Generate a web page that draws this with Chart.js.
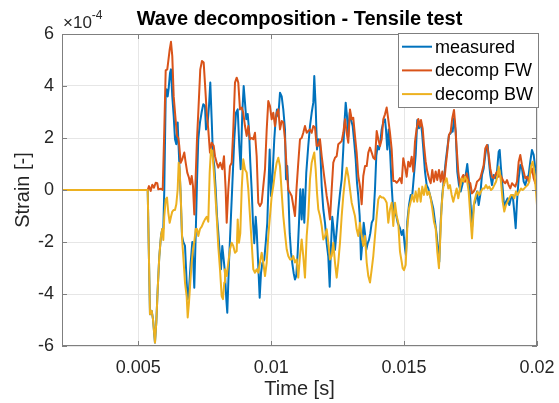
<!DOCTYPE html>
<html>
<head>
<meta charset="utf-8">
<script src="https://cdn.jsdelivr.net/npm/chart.js@4"></script>
<style>
  html, body { margin: 0; padding: 0; background: #fff; }
  canvas { display: block; }
</style>
</head>
<body>
<canvas id="grafico" width="559" height="403"></canvas>
<script>
// ---- DATA: time [s], strain in units of 1e-4 ----
const chartTitle = "Wave decomposition - Tensile test";
const seriesNames = ["measured", "decomp FW", "decomp BW"];
const xTicks = [0.005, 0.01, 0.015, 0.02];
const yTicks = [-6, -4, -2, 0, 2, 4, 6];
const xMin = 0.00213, xMax = 0.02;

const measuredT = [
  0.00213, 0.005354, 0.005440, 0.005504, 0.005553, 0.005628, 0.005677, 0.005730, 0.005790, 0.005854,
  0.005903, 0.005941, 0.005978, 0.006031, 0.006069, 0.006106, 0.006144, 0.006193, 0.006230, 0.006279,
  0.006332, 0.006381, 0.006430, 0.006482, 0.006505, 0.006542, 0.006595, 0.006644, 0.006693, 0.006757,
  0.006821, 0.006859, 0.006907, 0.006971, 0.007032, 0.007069, 0.007107, 0.007159, 0.007208, 0.007257,
  0.007321, 0.007385, 0.007445, 0.007509, 0.007547, 0.007611, 0.007660, 0.007709, 0.007761, 0.007810,
  0.007859, 0.007912, 0.007961, 0.008010, 0.008074, 0.008111, 0.008160, 0.008213, 0.008262, 0.008311,
  0.008348, 0.008412, 0.008487, 0.008536, 0.008612, 0.008676, 0.008740, 0.008800, 0.008852, 0.008913,
  0.008965, 0.009014, 0.009063, 0.009116, 0.009165, 0.009214, 0.009266, 0.009315, 0.009364, 0.009417,
  0.009454, 0.009514, 0.009567, 0.009616, 0.009665, 0.009740, 0.009793, 0.009853, 0.009906, 0.009943,
  0.009992, 0.010056, 0.010116, 0.010169, 0.010218, 0.010267, 0.010331, 0.010395, 0.010455, 0.010519,
  0.010557, 0.010605, 0.010643, 0.010696, 0.010745, 0.010794, 0.010846, 0.010895, 0.010944, 0.010997,
  0.011046, 0.011095, 0.011147, 0.011196, 0.011245, 0.011320, 0.011395, 0.011459, 0.011523, 0.011584,
  0.011621, 0.011674, 0.011723, 0.011772, 0.011836, 0.011900, 0.011960, 0.012024, 0.012088, 0.012148,
  0.012201, 0.012249, 0.012298, 0.012351, 0.012400, 0.012464, 0.012524, 0.012588, 0.012652, 0.012712,
  0.012750, 0.012803, 0.012851, 0.012900, 0.012953, 0.013002, 0.013066, 0.013126, 0.013179, 0.013228,
  0.013276, 0.013329, 0.013378, 0.013427, 0.013480, 0.013529, 0.013577, 0.013630, 0.013679, 0.013728,
  0.013781, 0.013841, 0.013905, 0.013954, 0.014006, 0.014055, 0.014104, 0.014157, 0.014217, 0.014281,
  0.014319, 0.014367, 0.014420, 0.014480, 0.014533, 0.014571, 0.014620, 0.014683, 0.014759, 0.014845,
  0.014909, 0.014969, 0.015033, 0.015071, 0.015120, 0.015184, 0.015248, 0.015308, 0.015372, 0.015436,
  0.015496, 0.015560, 0.015624, 0.015673, 0.015722, 0.015786, 0.015850, 0.015910, 0.015974, 0.016038,
  0.016098, 0.016162, 0.016226, 0.016286, 0.016324, 0.016376, 0.016437, 0.016501, 0.016564, 0.016625,
  0.016689, 0.016753, 0.016790, 0.016828, 0.016877, 0.016941, 0.017001, 0.017065, 0.017129, 0.017189,
  0.017253, 0.017317, 0.017377, 0.017430, 0.017490, 0.017554, 0.017618, 0.017678, 0.017742, 0.017806,
  0.017866, 0.017930, 0.017994, 0.018054, 0.018092, 0.018145, 0.018193, 0.018242, 0.018306, 0.018370,
  0.018430, 0.018494, 0.018558, 0.018596, 0.018645, 0.018709, 0.018769, 0.018833, 0.018897, 0.018957,
  0.019021, 0.019085, 0.019145, 0.019198, 0.019247, 0.019311, 0.019371, 0.019435, 0.019499, 0.019559,
  0.019623, 0.019687, 0.019747, 0.019811, 0.019875, 0.019935, 0.020000
];
const measuredV = [
  0, 0, -4.78, -4.65, -4.97, -5.87, -5.1, -3.82, -2.56, -1.77,
  -1.5, -1.5, 0, 3.6, 3.87, 3.6, 3.92, 4.5, 4.64, 3.6,
  2.85, 1.95, 1.76, 2.6, 1.95, 1.05, -0.23, -1.77, -2.0, -2.15,
  -3.56, -4.2, -3.85, -2.8, -2.0, -2.8, -3.76, -1.77, 0.28, 1.95,
  2.6, 3.0, 3.3, 3.23, 2.33, 2.6, 3.23, 4.13, 2.72, 1.3,
  0.92, 0.03, -1.0, -1.64, -2.54, -3.05, -2.15, -2.67, -3.2, -4.2,
  -4.72, -2.8, -1.0, 0.15, 1.95, 2.97, 3.1, 1.7, 0.8, 2.97,
  4.0, 3.36, 2.72, 2.92, 2.33, 1.05, 0, -1.26, -2.05, -1.03,
  -1.54, -2.92, -4.14, -3.2, -2.82, -2.67, -2.05, -1.26, 0.41, 1.56,
  -0.23, 0.67, 1.95, 2.72, 3.1, 2.82, 3.74, 3.6, 3.1, 2.33,
  0.41, 0.92, 0, -1.67, -2.4, -2.82, -3.2, -3.44, -3.3, -2.41,
  -1.26, 0.03, -1.13, 0.03, -1.26, 0.67, 1.7, 2.46, 2.97, 3.36,
  4.38, 3.2, 1.56, 1.95, 1.82, 0.15, -0.74, -1.26, -2.05, -2.56,
  -3.72, -2.18, -1.03, -1.54, -2.3, -1.54, -0.77, -0.13, 0.41, 1.56,
  2.46, 3.36, 2.85, 2.05, 2.97, 2.72, 2.46, 1.82, 1.18, 0.28,
  -0.23, -1.0, -2.67, -2.05, -1.26, -1.67, -2.3, -2.05, -1.92, -1.67,
  -1.26, -1.13, 0.03, 1.31, 1.69, 1.56, 1.82, 2.33, 2.6, 2.72,
  2.33, 1.56, 2.33, 1.31, 0.15, -0.49, -1.0, -0.87, -1.26, -1.47,
  -1.73, -1.54, -2.24, -2.5, -1.22, -0.58, -0.19, -0.19, 0.58, 1.35,
  2.69, 2.37, 2.63, 2.24, 1.6, 0.71, 0.19, 0.06, -0.19, -0.45,
  -0.71, -1.22, -1.73, -2.37, -2.76, -1.22, -0.19, 0.45, 1.09, 1.6,
  2.12, 2.18, 2.37, 2.24, 2.76, 2.24, 0.71, 0.19, -0.06, 0.19,
  0.45, 0.58, 1.0, 0.45, -0.32, -1.47, -0.58, -0.45, -0.06, -0.58,
  -0.19, 0.58, 0.83, 1.35, 1.6, 1.73, 1.09, 0.58, 0.19, 0.58,
  0.45, 0.71, 1.47, 1.54, 0.83, 0.06, -0.71, -0.45, -0.32, -0.58,
  -0.32, -0.19, -0.83, -1.47, -0.45, 0.45, 0.96, 0.83, 0.32, 0.19,
  0.45, 0.58, 1.09, 1.54, 1.35, 0.83, 0.45
];

const fwT = [
  0.00213, 0.005354, 0.005403, 0.005466, 0.005527, 0.005591, 0.005655, 0.005715, 0.005752, 0.005854,
  0.005918, 0.005978, 0.006031, 0.006091, 0.006129, 0.006181, 0.006230, 0.006279, 0.006332, 0.006392,
  0.006456, 0.006505, 0.006542, 0.006595, 0.006655, 0.006731, 0.006783, 0.006843, 0.006907, 0.006956,
  0.007009, 0.007058, 0.007107, 0.007159, 0.007208, 0.007257, 0.007332, 0.007396, 0.007460, 0.007509,
  0.007573, 0.007633, 0.007697, 0.007761, 0.007837, 0.007886, 0.007950, 0.008010, 0.008085, 0.008160,
  0.008224, 0.008288, 0.008326, 0.008386, 0.008450, 0.008514, 0.008574, 0.008638, 0.008702, 0.008762,
  0.008826, 0.008890, 0.008950, 0.009014, 0.009078, 0.009138, 0.009202, 0.009266, 0.009326, 0.009390,
  0.009454, 0.009514, 0.009578, 0.009642, 0.009703, 0.009767, 0.009831, 0.009891, 0.009955, 0.010019,
  0.010079, 0.010143, 0.010207, 0.010267, 0.010331, 0.010395, 0.010455, 0.010519, 0.010583, 0.010643,
  0.010707, 0.010771, 0.010831, 0.010895, 0.010959, 0.011019, 0.011083, 0.011147, 0.011207, 0.011271,
  0.011335, 0.011395, 0.011459, 0.011523, 0.011584, 0.011648, 0.011712, 0.011772, 0.011836, 0.011900,
  0.011960, 0.012024, 0.012088, 0.012148, 0.012212, 0.012276, 0.012336, 0.012400, 0.012464, 0.012524,
  0.012588, 0.012652, 0.012712, 0.012776, 0.012840, 0.012900, 0.012964, 0.013028, 0.013088, 0.013152,
  0.013216, 0.013276, 0.013340, 0.013404, 0.013465, 0.013529, 0.013593, 0.013653, 0.013717, 0.013781,
  0.013841, 0.013905, 0.013969, 0.014029, 0.014093, 0.014157, 0.014217, 0.014281, 0.014345, 0.014405,
  0.014469, 0.014533, 0.014593, 0.014657, 0.014721, 0.014781, 0.014845, 0.014909, 0.014969, 0.015033,
  0.015097, 0.015157, 0.015221, 0.015285, 0.015346, 0.015410, 0.015474, 0.015534, 0.015598, 0.015635,
  0.015699, 0.015748, 0.015812, 0.015872, 0.015936, 0.016000, 0.016060, 0.016124, 0.016188, 0.016248,
  0.016312, 0.016376, 0.016437, 0.016501, 0.016564, 0.016625, 0.016689, 0.016753, 0.016813, 0.016877,
  0.016926, 0.016978, 0.017038, 0.017102, 0.017166, 0.017227, 0.017291, 0.017355, 0.017430, 0.017490,
  0.017554, 0.017618, 0.017678, 0.017742, 0.017806, 0.017866, 0.017930, 0.017994, 0.018054, 0.018118,
  0.018182, 0.018242, 0.018306, 0.018370, 0.018430, 0.018494, 0.018558, 0.018619, 0.018682, 0.018746,
  0.018807, 0.018871, 0.018935, 0.018995, 0.019059, 0.019123, 0.019183, 0.019247, 0.019311, 0.019371,
  0.019435, 0.019499, 0.019559, 0.019623, 0.019687, 0.019747, 0.019811, 0.019875, 0.019935, 0.020000
];
const fwV = [
  0, 0, 0.15, -0.04, 0.2, 0.09, 0.28, 0.26, 0.03, 0.05,
  0, 2.3, 4.6, 4.64, 4.96, 5.4, 5.7, 5.15, 3.6, 2.85,
  2.08, 2.0, 1.7, 1.05, 1.18, 1.44, 1.05, 0.67, 0.47, 0.22,
  0.54, 0.15, -0.94, 0.5, 1.95, 2.97, 4.64, 4.96, 4.9, 4.1,
  3.0, 2.33, 1.44, 1.82, 1.7, 1.3, 1.05, 0.86, 1.05, 0.8,
  1.3, 0, -1.26, 0, 0.92, 1.05, 2.33, 4.13, 4.32, 4.13,
  3.1, 3.17, 2.97, 2.46, 2.08, 2.46, 1.95, 2.0, 1.95, 2.2,
  1.3, -0.49, -0.62, -0.49, 0.15, 0.8, 2.33, 3.42, 3.23, 2.72,
  2.97, 2.46, 2.97, 3.1, 2.33, 2.65, 2.6, 1.95, 0.8, 0,
  -0.1, -0.23, -0.6, -1.0, 0.15, 1.05, 1.95, 2.0, 2.2, 2.46,
  2.2, 2.27, 2.33, 2.2, 2.46, 2.4, 1.7, 1.7, 1.95, 1.3,
  0.8, 0.28, -0.23, -0.6, -1.13, 0.03, 1.05, 1.24, 1.3, 1.76,
  1.82, 1.88, 2.2, 2.72, 2.2, 1.82, 3.1, 2.72, 2.78, 2.08,
  1.44, 0.54, 0.15, -0.55, 0.54, 0.92, 0.92, 1.44, 1.63, 1.44,
  1.24, 1.18, 2.27, 1.95, 1.69, 1.95, 2.72, 2.91, 3.17, 2.72,
  2.2, 1.56, 0.35, 0.35, 0.28, 0.35, 0.46, 0.26, 1.22, 0.9,
  0.51, 1.09, 0.9, 1.28, 0.71, 1.86, 2.37, 2.73, 2.44, 2.69,
  2.37, 1.73, 1.09, 0.71, 0.45, 0.26, 0.77, 0.32, 0.71, 0.38,
  0.77, 0.32, 0.71, 0.19, 0.9, 1.47, 2.12, 2.24, 2.76, 3.08,
  2.5, 1.6, 0.71, 0.19, 0.45, 0.58, 0.32, 0.64, 0.32, 0.26,
  -0.13, -0.06, 0.06, 0.32, 0.38, 0.45, 0.7, 0.96, 1.6, 1.73,
  1.35, 0.83, 0.51, 0.45, 0.58, 0.7, 0.51, 0.58, 0.45, 0.32,
  0.26, 0.38, 0.19, 0.06, 0.26, 0.19, 0.13, 0.32, 1.09, 1.35,
  0.96, 0.7, 0.45, 0.51, 0.32, 0.64, 0.83, 0.45, 0.26, 0.19
];

const bwT = [
  0.00213, 0.005354, 0.005440, 0.005504, 0.005553, 0.005628, 0.005677, 0.005730, 0.005790, 0.005854,
  0.005903, 0.005941, 0.005978, 0.006031, 0.006080, 0.006129, 0.006181, 0.006230, 0.006279, 0.006332,
  0.006381, 0.006430, 0.006482, 0.006520, 0.006558, 0.006606, 0.006655, 0.006708, 0.006757, 0.006821,
  0.006859, 0.006907, 0.006956, 0.007009, 0.007058, 0.007107, 0.007159, 0.007208, 0.007257, 0.007321,
  0.007385, 0.007445, 0.007509, 0.007573, 0.007633, 0.007686, 0.007735, 0.007784, 0.007837, 0.007886,
  0.007950, 0.008010, 0.008074, 0.008137, 0.008186, 0.008235, 0.008262, 0.008326, 0.008386, 0.008450,
  0.008514, 0.008574, 0.008638, 0.008702, 0.008740, 0.008788, 0.008837, 0.008890, 0.008950, 0.009014,
  0.009078, 0.009138, 0.009202, 0.009266, 0.009326, 0.009390, 0.009454, 0.009514, 0.009578, 0.009642,
  0.009703, 0.009767, 0.009831, 0.009891, 0.009955, 0.010019, 0.010079, 0.010143, 0.010207, 0.010267,
  0.010331, 0.010395, 0.010455, 0.010519, 0.010583, 0.010643, 0.010707, 0.010771, 0.010831, 0.010895,
  0.010959, 0.011019, 0.011083, 0.011147, 0.011207, 0.011271, 0.011335, 0.011395, 0.011459, 0.011523,
  0.011584, 0.011621, 0.011674, 0.011723, 0.011772, 0.011836, 0.011900, 0.011960, 0.012024, 0.012088,
  0.012148, 0.012212, 0.012276, 0.012336, 0.012400, 0.012464, 0.012524, 0.012588, 0.012652, 0.012712,
  0.012776, 0.012840, 0.012900, 0.012964, 0.013028, 0.013088, 0.013152, 0.013216, 0.013276, 0.013340,
  0.013404, 0.013465, 0.013529, 0.013593, 0.013653, 0.013717, 0.013781, 0.013841, 0.013905, 0.013969,
  0.014029, 0.014093, 0.014157, 0.014217, 0.014281, 0.014345, 0.014405, 0.014469, 0.014533, 0.014593,
  0.014657, 0.014721, 0.014781, 0.014845, 0.014909, 0.014947, 0.014996, 0.015060, 0.015120, 0.015184,
  0.015248, 0.015308, 0.015372, 0.015436, 0.015496, 0.015560, 0.015624, 0.015684, 0.015748, 0.015812,
  0.015872, 0.015936, 0.016000, 0.016060, 0.016124, 0.016188, 0.016248, 0.016312, 0.016361, 0.016414,
  0.016474, 0.016538, 0.016602, 0.016662, 0.016726, 0.016790, 0.016850, 0.016914, 0.016978, 0.017038,
  0.017102, 0.017166, 0.017227, 0.017291, 0.017366, 0.017430, 0.017490, 0.017554, 0.017591, 0.017640,
  0.017704, 0.017768, 0.017829, 0.017892, 0.017956, 0.018017, 0.018081, 0.018145, 0.018205, 0.018269,
  0.018333, 0.018393, 0.018457, 0.018521, 0.018558, 0.018596, 0.018645, 0.018709, 0.018769, 0.018833,
  0.018897, 0.018957, 0.019021, 0.019085, 0.019145, 0.019209, 0.019273, 0.019333, 0.019397, 0.019461,
  0.019521, 0.019585, 0.019649, 0.019710, 0.019773, 0.019837, 0.019898, 0.019962, 0.020000
];
const bwV = [
  0, 0, -4.78, -4.65, -4.97, -5.87, -5.1, -3.82, -2.56, -1.77,
  -1.5, -1.92, -1.03, -0.36, -0.29, -0.87, -1.26, -1.03, -0.83, -0.77,
  -0.77, -0.55, 0.03, 1.05, 0.79, -0.49, -2.0, -2.79, -3.56, -4.1,
  -4.9, -4.33, -3.56, -2.79, -2.28, -2.0, -1.5, -1.5, -1.77, -1.5,
  -1.41, -1.26, -1.13, -1.03, -1.22, 0.67, 1.56, 1.5, 0.79, 0.03,
  -1.03, -2.18, -3.05, -4.08, -4.2, -3.56, -3.05, -3.31, -2.79, -2.28,
  -2.03, -2.15, -2.41, -2.35, -1.13, -2.03, -1.67, 0.03, 1.18, 0.79,
  0.67, 0.03, -1.0, -2.03, -3.05, -3.18, -3.05, -3.18, -2.79, -2.41,
  -2.79, -3.31, -2.79, -1.77, -1.0, -0.23, 0.15, 0.67, 1.05, 1.24,
  0.92, -0.1, -1.0, -1.67, -2.28, -2.54, -2.67, -2.67, -2.54, -2.79,
  -2.67, -3.37, -2.54, -1.9, -2.54, -3.37, -1.77, -1.0, 0.41, 1.05,
  1.31, 1.44, 0.79, -0.1, -0.74, -1.0, -1.38, -1.9, -1.77, -1.51,
  -2.03, -2.67, -2.54, -2.03, -2.79, -3.37, -2.79, -2.03, -1.0, -0.23,
  0.41, 0.86, 0.54, 0.03, -0.49, -0.74, -1.0, -1.51, -1.77, -1.26,
  -1.77, -2.15, -1.77, -2.79, -3.31, -3.56, -3.05, -2.54, -1.77, -1.0,
  -0.36, -0.23, -0.29, -0.29, -0.36, -0.49, -1.26, -0.74, -0.49, -1.38,
  -0.49, -1.0, -1.26, -2.37, -2.76, -3.01, -3.08, -2.88, -1.47, -0.71,
  -0.45, -0.19, -0.45, -0.06, -0.45, 0.06, -0.45, 0.13, -0.19, 0.19,
  -0.19, -0.06, -0.32, -0.71, -1.22, -1.47, -2.37, -3.01, -1.86, -0.58,
  0.13, 0.32, 0.45, 0.06, 0.19, -0.19, -0.45, -0.19, 0.06, -0.32,
  0.06, 0.45, 0.32, 0.51, 0.38, -0.06, -0.96, -1.86, -1.22, -0.45,
  -0.19, -0.06, -0.19, -0.06, 0.06, 0.06, 0.19, 0.06, 0.13, 0,
  0.06, 0.19, 0.32, 0.58, 0.9, 0.71, 0.32, -0.45, -0.83, -0.58,
  -0.45, -0.32, -0.19, -0.19, -0.32, -0.06, -0.19, -0.06, 0.06, 0,
  0.06, 0.13, 0.19, 0.32, 0.9, 1.09, 0.71, -0.06, -0.58
];

// ---- ESTILO ----
const FONT = "'Liberation Sans', Arial, Helvetica, sans-serif";
const INK = "#262626";
const EDGE = "#7f7f7f";

function pts(t, v) {
  return t.map((x, i) => ({ x: x, y: v[i] }));
}

// caixa, ticks internos, titulo, multiplicador e legenda (estilo MATLAB)
const decor = {
  id: "decor",
  afterDraw(chart) {
    const ctx = chart.ctx;
    const a = chart.chartArea;
    const xs = chart.scales.x, ys = chart.scales.y;
    ctx.save();

    ctx.strokeStyle = EDGE;
    ctx.lineWidth = 1;
    ctx.strokeRect(a.left + 0.5, a.top + 0.5, a.right - a.left - 1, a.bottom - a.top - 1);
    ctx.beginPath();
    xTicks.forEach(v => {
      const px = Math.round(xs.getPixelForValue(v)) + 0.5;
      ctx.moveTo(px, a.bottom); ctx.lineTo(px, a.bottom - 5);
      ctx.moveTo(px, a.top); ctx.lineTo(px, a.top + 5);
    });
    yTicks.forEach(v => {
      const py = Math.round(ys.getPixelForValue(v)) + 0.5;
      ctx.moveTo(a.left, py); ctx.lineTo(a.left + 5, py);
      ctx.moveTo(a.right, py); ctx.lineTo(a.right - 5, py);
    });
    ctx.stroke();

    ctx.fillStyle = "#000";
    ctx.font = "bold 20px " + FONT;
    ctx.textAlign = "center";
    ctx.textBaseline = "alphabetic";
    ctx.fillText(chartTitle, (a.left + a.right) / 2, 25);

    ctx.fillStyle = INK;
    ctx.textAlign = "left";
    ctx.font = "17px " + FONT;
    ctx.fillText("\u00d710", a.left + 1, 28);
    const w = ctx.measureText("\u00d710").width;
    ctx.font = "12px " + FONT;
    ctx.fillText("-4", a.left + 1 + w, 19);

    // legenda
    const lx = 398.5, ly = 33.5, lw = 140, lh = 74;
    ctx.fillStyle = "#fff";
    ctx.fillRect(lx, ly, lw, lh);
    ctx.strokeStyle = EDGE;
    ctx.strokeRect(lx, ly, lw, lh);
    ctx.font = "18px " + FONT;
    ctx.textBaseline = "middle";
    chart.data.datasets.forEach((ds, i) => {
      const y = 46.7 + i * 23.7;
      ctx.strokeStyle = ds.borderColor;
      ctx.lineWidth = 2;
      ctx.beginPath();
      ctx.moveTo(402, y); ctx.lineTo(432, y);
      ctx.stroke();
      ctx.fillStyle = "#000";
      ctx.fillText(ds.label, 435, y + 1);
    });
    ctx.restore();
  }
};

const ctx = document.getElementById("grafico").getContext("2d");

const chart = new Chart(ctx, {
  type: "line",
  data: {
    datasets: [
      { label: seriesNames[0], data: pts(measuredT, measuredV), borderColor: "#0072BD", order: 3 },
      { label: seriesNames[1], data: pts(fwT, fwV), borderColor: "#D95319", order: 2 },
      { label: seriesNames[2], data: pts(bwT, bwV), borderColor: "#EDB120", order: 1 }
    ]
  },
  options: {
    responsive: false,
    animation: false,
    devicePixelRatio: 1,
    layout: { padding: { top: 34, right: 22, left: 0, bottom: 0 } },
    elements: {
      line: { borderWidth: 2, tension: 0, fill: false, borderJoinStyle: "round" },
      point: { radius: 0 }
    },
    plugins: {
      legend: { display: false },
      tooltip: { enabled: false },
      title: { display: false }
    },
    scales: {
      x: {
        type: "linear",
        min: xMin,
        max: xMax,
        afterFit: s => { s.height = 57; s.paddingLeft = 0; s.paddingRight = 0; },
        afterBuildTicks: s => { s.ticks = xTicks.map(v => ({ value: v })); },
        ticks: {
          padding: 11, color: INK, maxRotation: 0, autoSkip: false,
          font: { family: FONT, size: 18 },
          callback: v => String(+v.toFixed(3))
        },
        grid: { color: "#e6e6e6", drawTicks: false },
        border: { display: false },
        title: {
          display: true, text: "Time [s]", color: INK,
          font: { family: FONT, size: 20 }, padding: { top: 0, bottom: 2 }
        }
      },
      y: {
        min: -6,
        max: 6,
        afterFit: s => { s.width = 62; s.paddingTop = 0; s.paddingBottom = 0; },
        afterBuildTicks: s => { s.ticks = yTicks.map(v => ({ value: v })); },
        ticks: {
          padding: 8, color: INK,
          font: { family: FONT, size: 18 },
          callback: v => String(v)
        },
        grid: { color: "#e6e6e6", drawTicks: false },
        border: { display: false },
        title: {
          display: true, text: "Strain [-]", color: INK,
          font: { family: FONT, size: 20 }, padding: { top: 11, bottom: 0 }
        }
      }
    }
  },
  plugins: [decor]
});
</script>
</body>
</html>
